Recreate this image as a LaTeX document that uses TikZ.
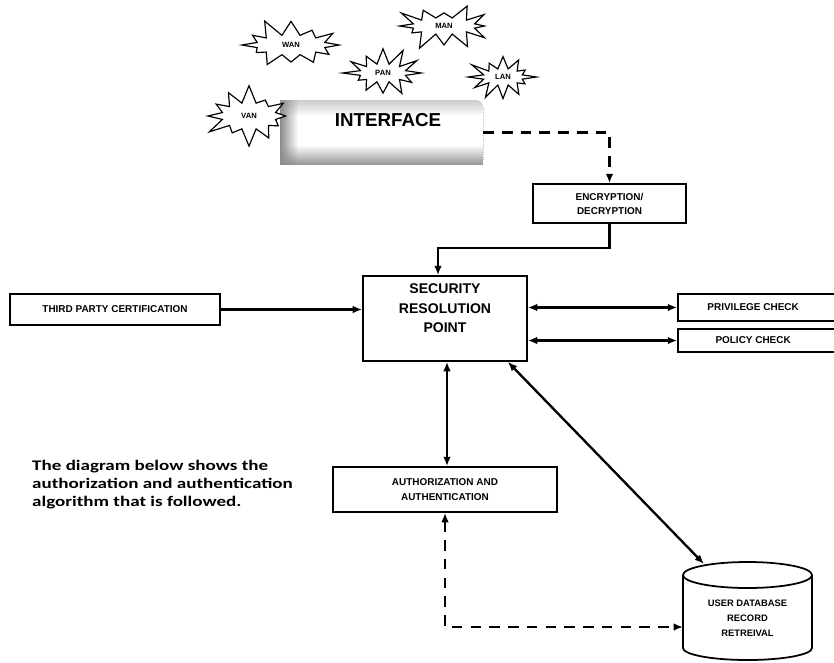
\documentclass[tikz,border=0pt]{standalone}
\usepackage{fontspec}
\setmainfont{Liberation Sans}
\newfontfamily\parafont{Carlito}[FakeStretch=1.3]
\usetikzlibrary{arrows.meta,shapes.symbols,fadings,calc}
\tikzset{
  boxnode/.style={draw, line width=1.5pt, fill=white, inner sep=0pt, align=center, font=\bfseries\fontsize{8.5}{10}\selectfont},
  conn/.style={line width=2pt, -{Latex[length=8pt,width=6.5pt]}},
  biconn/.style={line width=2pt, {Latex[length=8pt,width=6.5pt]}-{Latex[length=8pt,width=6.5pt]}},
  dconn/.style={line width=2pt, dash pattern=on 9pt off 7pt, {Latex[length=8pt,width=6.5pt]}-{Latex[length=8pt,width=6.5pt]}},
  dconnone/.style={line width=2pt, dash pattern=on 9pt off 7pt, -{Latex[length=8pt,width=6.5pt]}},
  burst/.style={starburst, draw, fill=white, line width=1pt, starburst points=12, starburst point height=0.55cm, inner sep=0pt, font=\bfseries\fontsize{6.5}{7}\selectfont}
}
\begin{document}
\begin{tikzpicture}[x=0.03cm, y=-0.03cm]
\useasboundingbox (0,0) rectangle (834,662);

% interface box
\node[rounded corners=6pt, fill=white, minimum width=6.09cm, minimum height=1.95cm] (iface) at (381.5,132.5) {};
\fill[gray!40, path fading=south, rounded corners=6pt] (280,100) rectangle (483,116);
\fill[gray!85, path fading=north] (280,145) rectangle (483,165);
\fill[gray!90, path fading=east] (280,100) rectangle (298,165);
\draw[gray!50, densely dotted, line width=0.8pt] (483,108) -- (483,160);
\node[font=\bfseries\fontsize{16}{18}\selectfont] (ifacetext) at (388,120) {INTERFACE};

% starbursts
\node[burst, minimum width=3.2cm, minimum height=1.7cm, random starburst=11] (wan) at (291,45) {WAN};
\node[burst, minimum width=3.0cm, minimum height=1.6cm, random starburst=23] (man) at (444,26) {MAN};
\node[burst, minimum width=2.5cm, minimum height=1.65cm, random starburst=37] (pan) at (383,73) {PAN};
\node[burst, minimum width=2.3cm, minimum height=1.6cm, random starburst=41] (lan) at (503,77) {LAN};
\node[burst, minimum width=2.75cm, minimum height=1.9cm, random starburst=53] (van) at (249,116) {VAN};

% boxes
\node[boxnode, minimum width=4.59cm, minimum height=1.17cm] (enc) at (609.5,203.5) {ENCRYPTION/\\[2pt]DECRYPTION};
\node[boxnode, minimum width=4.92cm, minimum height=2.55cm,
  label={[anchor=north, yshift=-4pt, align=center, font=\bfseries\fontsize{12}{16.5}\selectfont]north:SECURITY\\RESOLUTION\\POINT}] (srp) at (445,318.5) {};
\node[boxnode, minimum width=6.3cm, minimum height=0.93cm] (third) at (115,309.5) {THIRD PARTY CERTIFICATION};
\node[boxnode, minimum width=4.86cm, minimum height=0.81cm] (priv) at (759,307.5) {\hspace*{-10pt}PRIVILEGE CHECK};
\node[boxnode, minimum width=4.86cm, minimum height=0.69cm] (policy) at (759,340.5) {\hspace*{-10pt}POLICY CHECK};
\node[boxnode, minimum width=6.72cm, minimum height=1.35cm] (auth) at (445,489.5) {AUTHORIZATION AND\\[3pt]AUTHENTICATION};

% database cylinder
\draw[line width=1.5pt, fill=white] (683,575) -- (683,648) arc[start angle=180, end angle=0, x radius=64.5, y radius=12] -- (812,575) arc[start angle=0, end angle=-180, x radius=64.5, y radius=13] -- cycle;
\draw[line width=1.5pt] (683,575) arc[start angle=180, end angle=0, x radius=64.5, y radius=13];
\node[align=center, font=\bfseries\fontsize{8}{13}\selectfont] (db) at (747.5,618) {USER DATABASE\\RECORD\\RETREIVAL};
\coordinate (dbtop) at (704,564);
\coordinate (dbleft) at (683,627);

% paragraph
\node[anchor=north west, align=left, inner sep=0pt, font=\parafont\bfseries\fontsize{12.5}{15.5}\selectfont] (para) at (32,460) {The diagram below shows the\\authorization and authentication\\algorithm that is followed.};

% connectors
\draw[dconnone] (iface.east) -| (enc.north);
\draw[conn] (enc.south) -- ++(0,24) -| ([xshift=-0.21cm]srp.north);
\draw[conn] (third.east) -- (third.east -| srp.west);
\draw[biconn] (priv.west -| srp.east) -- (priv.west);
\draw[biconn] (policy.west -| srp.east) -- (policy.west);
\draw[biconn] ([xshift=0.06cm]srp.south) -- ([xshift=0.06cm]auth.north);
\draw[biconn] ([xshift=-0.6cm]srp.south east) -- (dbtop);
\draw[dconn] (auth.south) |- (dbleft);
\end{tikzpicture}
\end{document}
